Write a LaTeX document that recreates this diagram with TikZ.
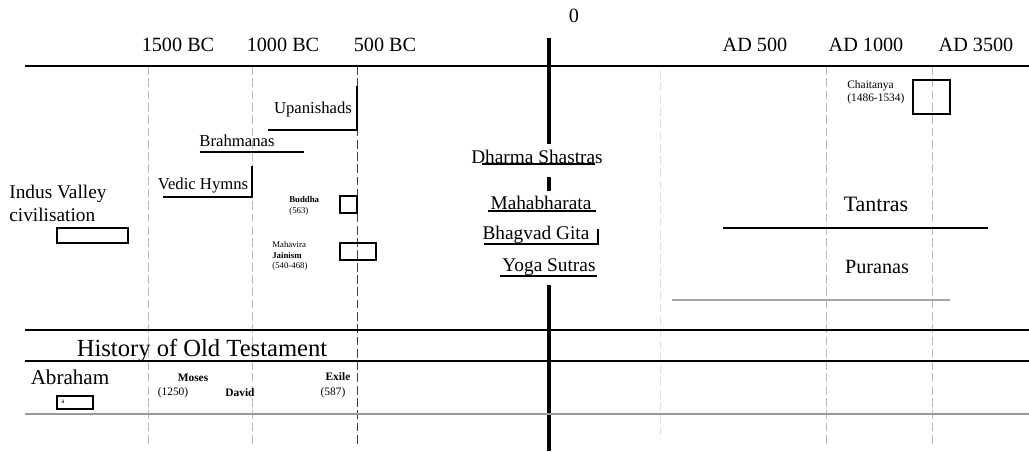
\documentclass[tikz,border=0pt]{standalone}
\usepackage{fontspec}
\setmainfont{Liberation Serif}
\usetikzlibrary{positioning}

\begin{document}
\begin{tikzpicture}[
    x=0.02cm, y=-0.02cm,
    year/.style={font=\fontsize{11.5}{13}\selectfont, inner sep=0pt},
    period/.style={font=\fontsize{9.5}{11}\selectfont, inner sep=0pt},
    work/.style={font=\fontsize{11}{13}\selectfont, inner sep=0pt},
    tiny/.style={font=\fontsize{5}{6}\selectfont, align=left, inner sep=0pt},
    small/.style={font=\fontsize{6.5}{7.5}\selectfont, align=left, inner sep=0pt},
    era/.style={draw, gray!55, dash pattern=on 5pt off 2pt, line width=0.5pt},
    rule/.style={draw, line width=0.6pt},
    axis/.style={draw, line width=1.1pt},
    zero/.style={draw, line width=2.6pt},
    life/.style={draw, line width=0.9pt}
]
    \useasboundingbox (0,0) rectangle (1029,451);

    % Era lines
    \foreach \xx in {148,252,826,932}
        \draw[era] (\xx,66) -- (\xx,445);
    \draw[era, gray!25] (660,70) -- (660,440);
    \draw[era, black!75] (357,66) -- (357,445);

    % Axis and years
    \draw[axis] (25,66) -- (1029,66);
    \node[year] (y1500) at (178,45) {1500 BC};
    \node[year] (y1000) at (283,45) {1000 BC};
    \node[year] (y500)  at (385,45) {500 BC};
    \node[year] (y0)    at (574,16) {0};
    \node[year] (a500)  at (755,45) {AD 500};
    \node[year] (a1000) at (866,45) {AD 1000};
    \node[year] (a1500) at (976,45) {AD 3500};

    % Year zero
    \draw[zero] (549,38) -- (549,144);
    \draw[zero] (549,177) -- (549,191);
    \draw[zero] (549,285) -- (549,451);

    % Vedic period
    \node[period] (upan) at (313,109) {Upanishads};
    \draw[rule] (268,130) -- (357,130) -- (357,86);
    \node[period] (brah) at (237,141) {Brahmanas};
    \draw[rule] (200,152) -- (304,152);
    \node[period] (vedic) at (203,186) {Vedic Hymns};
    \draw[rule] (163,197) -- (252,197) -- (252,166);

    \node[work, align=left, anchor=west] (indus) at (9,203) {Indus Valley\\civilisation};
    \draw[life] (57,228) rectangle (128,243);

    \node[tiny, anchor=west] (buddha) at (289,206) {\textbf{Buddha}\\(563)};
    \draw[life] (340,196) rectangle (357,213);
    \node[tiny, anchor=west] (jain) at (272,256) {Mahavira\\\textbf{Jainism}\\(540-468)};
    \draw[life] (340,243) rectangle (376,260);

    % Epics
    \node[work] (dharma) at (537,157) {Dharma Shastras};
    \draw[rule] (482,164) -- (595,164);
    \node[work] (maha) at (541,203) {Mahabharata};
    \draw[rule] (488,211) -- (596,211);
    \node[work] (gita) at (536,235) {Bhagvad Gita};
    \draw[rule] (484,244) -- (598,244) -- (598,229);
    \node[work] (yoga) at (549,267) {Yoga Sutras};
    \draw[rule] (500,276) -- (597,276);

    % Medieval
    \node[small, anchor=west] (chait) at (847,92) {Chaitanya\\(1486-1534)};
    \draw[life] (913,80) rectangle (950,114);
    \node[work, font=\fontsize{12.5}{14}\selectfont] (tantra) at (876,204) {Tantras};
    \draw[rule] (723,228) -- (988,228);
    \node[work, font=\fontsize{11.5}{13}\selectfont] (purana) at (877,267) {Puranas};
    \draw[rule, gray!70, line width=1.2pt] (672,300) -- (950,300);

    % Old Testament band
    \draw[axis, line width=0.9pt] (25,330) -- (1029,330);
    \node[font=\fontsize{14}{16}\selectfont, inner sep=0pt] (ot) at (202,350) {History of Old Testament};
    \draw[axis, line width=0.9pt] (25,361) -- (1029,361);
    \node[work, font=\fontsize{12}{14}\selectfont] (abraham) at (70,377) {Abraham};
    \draw[life] (57,396) rectangle (93,409);
    \node[font=\fontsize{4}{5}\selectfont, inner sep=0pt] (ab) at (63,402) {a};
    \node[small] (moses) at (193,378) {\textbf{Moses}};
    \node[small] (mdate) at (173,393) {(1250)};
    \node[small] (david) at (240,393) {\textbf{David}};
    \node[small] (exile) at (338,377) {\textbf{Exile}};
    \node[small] (edate) at (333,393) {(587)};
    \draw[axis, gray!80, line width=1.3pt] (25,414) -- (1029,414);
\end{tikzpicture}
\end{document}
